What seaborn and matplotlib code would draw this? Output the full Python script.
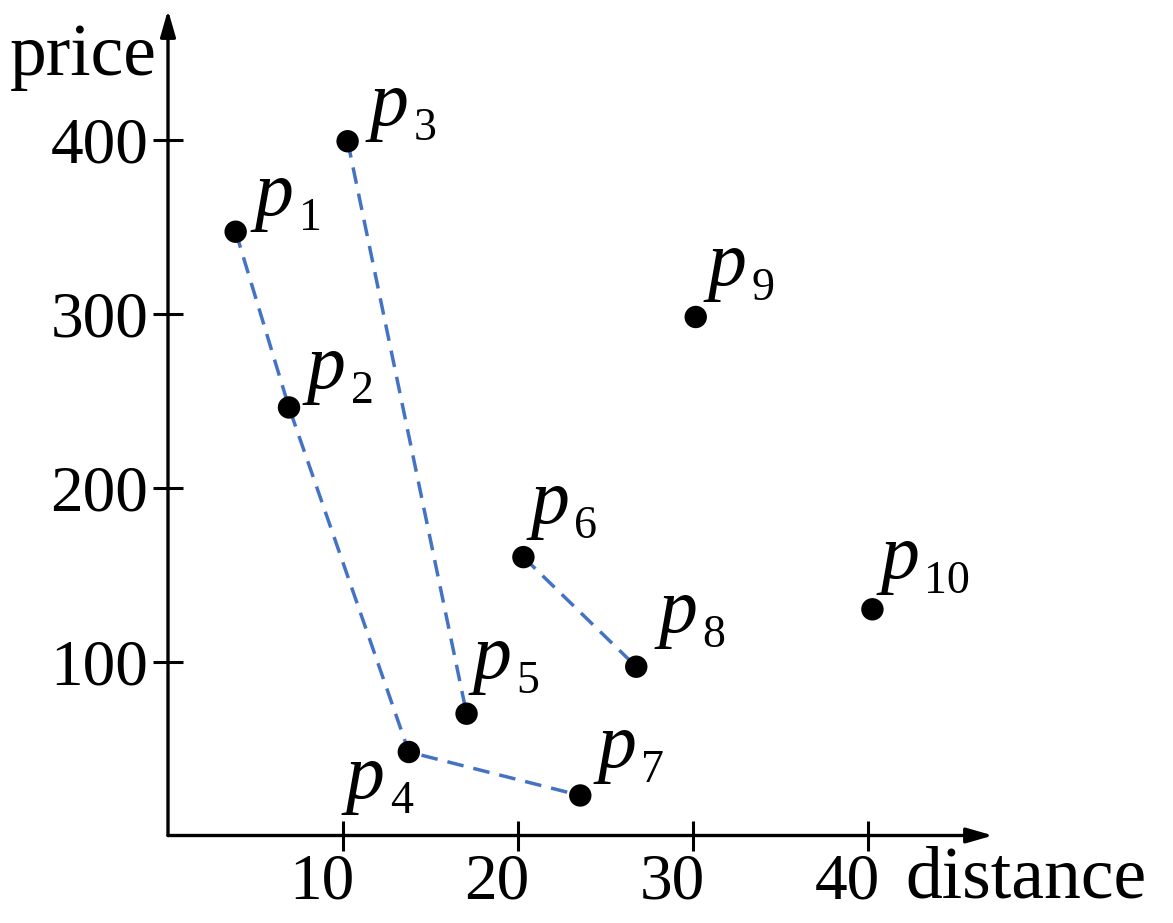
import matplotlib
matplotlib.use("Agg")
import matplotlib.pyplot as plt
import matplotlib.transforms as mtrans
import seaborn as sns
import pandas as pd

# ---- data ----
names = ["p1", "p2", "p3", "p4", "p5", "p6", "p7", "p8", "p9", "p10"]
distance = [3.85, 6.9, 10.25, 13.75, 17.05, 20.3, 23.55, 26.75, 30.15, 40.25]
price = [347, 246, 399, 48, 70, 160, 23, 97, 298, 130]
chains = [["p1", "p2", "p4", "p7"], ["p3", "p5"], ["p6", "p8"]]
x_ticks = [10, 20, 30, 40]
y_ticks = [100, 200, 300, 400]
x_label = "distance"
y_label = "price"

df = pd.DataFrame({"name": names, "distance": distance, "price": price})

sns.set_theme(style="white")
plt.rcParams["font.family"] = ["Liberation Serif", "DejaVu Serif"]
for k in ["text.color", "axes.labelcolor", "xtick.color", "ytick.color"]:
    plt.rcParams[k] = "black"

W, H = 1173, 923
PX = 72 / 100  # points per pixel at dpi 100
fig = plt.figure(figsize=(W / 100, H / 100), dpi=100)
ax = fig.add_axes([168 / W, (H - 835.5) / H, (993 - 168) / W, (835.5 - 10) / H])

ax.set_xlim(-0.3 / 17.5, (993 - 168) / 17.5)
ax.set_ylim(0, (835.5 - 10) / 1.74)

blue = "#4472C4"
for chain in chains:
    sub = df.set_index("name").loc[chain].reset_index()
    sns.lineplot(data=sub, x="distance", y="price", sort=False, estimator=None,
                 ax=ax, color=blue, lw=2.5, zorder=2)
for ln in ax.lines:
    ln.set_linestyle((0, (4.8, 2.9)))
    ln.set_dash_capstyle("butt")

sns.scatterplot(data=df, x="distance", y="price", ax=ax, color="black",
                s=260, edgecolor="none", zorder=3, legend=False)

# point labels: (p-left dx, baseline dy) in pixels relative to the point
label_off = {
    "p1": (19, 17), "p2": (18, 19), "p3": (22, 16), "p4": (-63, -46),
    "p5": (6, 36), "p6": (7, 34), "p7": (17, 28), "p8": (22, 35),
    "p9": (12, 32), "p10": (8, 31),
}
for n, xv, yv in zip(names, distance, price):
    dx, dy = label_off[n]
    ax.annotate("p", (xv, yv), xytext=(dx * PX, dy * PX),
                textcoords="offset points", fontsize=56, style="italic",
                ha="left", va="baseline", zorder=4)
    ax.annotate(n[1:], (xv, yv), xytext=((dx + 44) * PX, (dy - 15) * PX),
                textcoords="offset points", fontsize=33,
                ha="left", va="baseline", zorder=4)

# axes with arrows
for s in ax.spines.values():
    s.set_visible(False)
arrow = dict(arrowstyle="-|>,head_length=0.8,head_width=0.23", color="black",
             lw=2.4, mutation_scale=20, shrinkA=0, shrinkB=0)
ax.annotate("", xy=(1, 0), xytext=(0, 0), xycoords="axes fraction",
            textcoords="axes fraction", arrowprops=arrow, annotation_clip=False)
ax.annotate("", xy=(0, 1), xytext=(0, 0), xycoords="axes fraction",
            textcoords="axes fraction", arrowprops=arrow, annotation_clip=False)

ax.set_xticks(x_ticks)
ax.set_yticks(y_ticks)
ax.set_xticklabels([str(t) for t in x_ticks])
ax.set_yticklabels([str(t) for t in y_ticks])
ax.tick_params(axis="both", direction="inout", length=21.5, width=2.2,
               labelsize=47, color="black", labelcolor="black",
               bottom=True, left=True)
ax.tick_params(axis="y", pad=3.5)
ax.tick_params(axis="x", pad=2)
shift = mtrans.ScaledTranslation(-21 / 100, 0, fig.dpi_scale_trans)
for lbl in ax.get_xticklabels():
    lbl.set_transform(lbl.get_transform() + shift)
ax.set_xlabel("")
ax.set_ylabel("")
ax.grid(False)

fig.text(10 / W, (H - 75) / H, y_label, fontsize=53, ha="left", va="baseline")
fig.text(905 / W, (H - 898) / H, x_label, fontsize=53, ha="left", va="baseline")

fig.savefig("out.png", dpi=100, facecolor="white")
